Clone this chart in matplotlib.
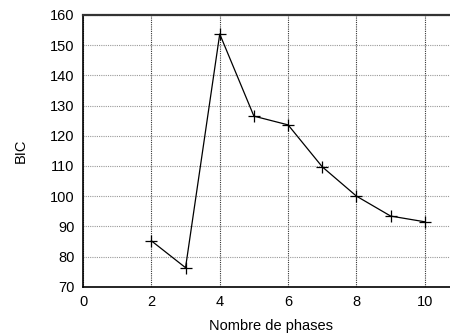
import matplotlib
matplotlib.use("Agg")
import matplotlib.pyplot as plt

plt.rcParams['font.family'] = ['Liberation Sans', 'DejaVu Sans']

phases = [2, 3, 4, 5, 6, 7, 8, 9, 10]
bic = [85.2, 76.3, 153.7, 126.5, 123.6, 109.7, 100.0, 93.4, 91.5]

fig = plt.figure(figsize=(4.5, 3.34), dpi=100)
# axes run a little past the right edge, as in the original picture
ax = fig.add_axes([83 / 450, 1 - 286.7 / 334, (459 - 83) / 450, (286.7 - 15) / 334])

ax.plot(phases, bic, color='black', lw=0.9, marker='+', ms=9, mew=0.9)

ax.set_xlim(0, 11)
ax.set_ylim(70, 160)
ax.set_xticks([0, 2, 4, 6, 8, 10])
ax.set_yticks(range(70, 161, 10))

ax.grid(True, axis='y', linestyle=(0, (1, 1)), color='#999999', lw=0.8)
ax.grid(True, axis='x', linestyle=(0, (1, 1)), color='#333333', lw=0.8)
ax.tick_params(length=0, labelsize=10.5, pad=6)

for s in ['left', 'bottom']:
    ax.spines[s].set_linewidth(1.2)
ax.spines['top'].set_linewidth(1.6)
ax.spines['top'].set_color('#333333')
ax.spines['right'].set_visible(False)

ax.set_xlabel('Nombre de phases', fontsize=10.5, labelpad=7)
ax.set_ylabel('BIC', fontsize=10.5, labelpad=16)

fig.savefig('out.png', dpi=100)
